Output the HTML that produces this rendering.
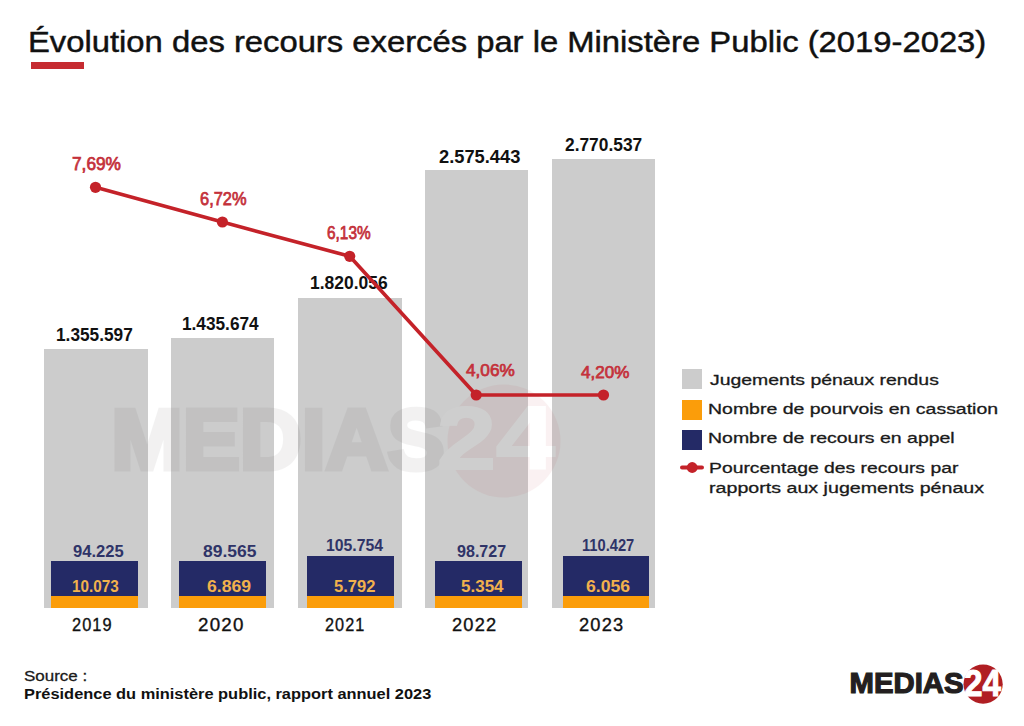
<!DOCTYPE html>
<html><head><meta charset="utf-8"><style>
html,body{margin:0;padding:0;}
body{width:1024px;height:726px;position:relative;overflow:hidden;background:#fff;font-family:"Liberation Sans",sans-serif;}
.a{position:absolute;}
.t{position:absolute;white-space:nowrap;line-height:1;transform-origin:0 0;}
</style></head><body>

<div class="a" style="left:44px;top:349px;width:103.6px;height:259px;background:#cccccc"></div>
<div class="a" style="left:170.7px;top:337.5px;width:103.6px;height:270.5px;background:#cccccc"></div>
<div class="a" style="left:298px;top:297.5px;width:103.6px;height:310.5px;background:#cccccc"></div>
<div class="a" style="left:424.5px;top:170px;width:103.6px;height:438px;background:#cccccc"></div>
<div class="a" style="left:551.8px;top:158.5px;width:103.6px;height:449.5px;background:#cccccc"></div>
<div class="a" style="left:51.1px;top:561px;width:86.7px;height:35px;background:#242a66"></div>
<div class="a" style="left:51.1px;top:596px;width:86.7px;height:12px;background:#fb9d0a"></div>
<div class="a" style="left:178.9px;top:561px;width:86.7px;height:35px;background:#242a66"></div>
<div class="a" style="left:178.9px;top:596px;width:86.7px;height:12px;background:#fb9d0a"></div>
<div class="a" style="left:307px;top:556px;width:86.7px;height:40px;background:#242a66"></div>
<div class="a" style="left:307px;top:596px;width:86.7px;height:12px;background:#fb9d0a"></div>
<div class="a" style="left:435px;top:561px;width:86.7px;height:35px;background:#242a66"></div>
<div class="a" style="left:435px;top:596px;width:86.7px;height:12px;background:#fb9d0a"></div>
<div class="a" style="left:562.7px;top:556px;width:86.7px;height:40px;background:#242a66"></div>
<div class="a" style="left:562.7px;top:596px;width:86.7px;height:12px;background:#fb9d0a"></div>
<div class="a" style="left:31px;top:62px;width:53px;height:7px;background:#c62b31"></div>
<svg class="a" style="left:0;top:0" width="1024" height="726"><g opacity="0.055"><text x="111.2" y="468.8" font-family="Liberation Sans" font-weight="bold" font-size="86" textLength="333.6" lengthAdjust="spacingAndGlyphs" fill="#231f20" stroke="#231f20" stroke-width="5">MEDIAS</text>
<circle cx="504" cy="441" r="56.5" fill="#b01e23"/>
<text x="437" y="468.5" font-family="Liberation Sans" font-weight="bold" font-size="89" textLength="118" lengthAdjust="spacingAndGlyphs" fill="#fff" stroke="#fff" stroke-width="2">24</text></g></svg>
<div class="t" style="left:55.62px;top:327.3px;font-size:17.68px;font-weight:bold;color:#111;transform:scaleX(0.9766)">1.355.597</div>
<div class="t" style="left:182.44px;top:315.9px;font-size:17.97px;font-weight:bold;color:#111;transform:scaleX(0.9595)">1.435.674</div>
<div class="t" style="left:309.83px;top:275.4px;font-size:17.97px;font-weight:bold;color:#111;transform:scaleX(0.9718)">1.820.056</div>
<div class="t" style="left:438.91px;top:147.7px;font-size:18.41px;font-weight:bold;color:#111;transform:scaleX(0.9938)">2.575.443</div>
<div class="t" style="left:564.93px;top:137.0px;font-size:17.83px;font-weight:bold;color:#111;transform:scaleX(0.9731)">2.770.537</div>
<svg class="a" style="left:0;top:0" width="1024" height="726"><polyline points="95.5,187.3 222.4,222 349.7,256.3 476.2,395 603.5,395" fill="none" stroke="#c42229" stroke-width="3.6" stroke-linejoin="round"/>
<circle cx="95.5" cy="187.3" r="5.6" fill="#c42229"/>
<circle cx="222.4" cy="222" r="5.6" fill="#c42229"/>
<circle cx="349.7" cy="256.3" r="5.6" fill="#c42229"/>
<circle cx="476.2" cy="395" r="5.6" fill="#c42229"/>
<circle cx="603.5" cy="395" r="5.6" fill="#c42229"/>
<line x1="682" y1="467.5" x2="702" y2="467.5" stroke="#c42229" stroke-width="4" stroke-linecap="round"/><circle cx="692.2" cy="467.5" r="5.4" fill="#c42229"/>
</svg>
<div class="t" style="left:28.44px;top:27.7px;font-size:28.99px;font-weight:normal;-webkit-text-stroke:0.45px #111;color:#111;transform:scaleX(1.1308)">Évolution des recours exercés par le Ministère Public (2019-2023)</div>
<div class="t" style="left:71.91px;top:155.9px;font-size:17.54px;font-weight:normal;-webkit-text-stroke:0.75px #c4313b;color:#c4313b;transform:scaleX(0.9854)">7,69%</div>
<div class="t" style="left:199.79px;top:190.8px;font-size:17.97px;font-weight:normal;-webkit-text-stroke:0.75px #c4313b;color:#c4313b;transform:scaleX(0.914)">6,72%</div>
<div class="t" style="left:326.93px;top:225.4px;font-size:17.68px;font-weight:normal;-webkit-text-stroke:0.75px #c4313b;color:#c4313b;transform:scaleX(0.8714)">6,13%</div>
<div class="t" style="left:465.7px;top:362.3px;font-size:17.1px;font-weight:normal;-webkit-text-stroke:0.75px #c4313b;color:#c4313b;transform:scaleX(1.0063)">4,06%</div>
<div class="t" style="left:581.2px;top:363.7px;font-size:17.39px;font-weight:normal;-webkit-text-stroke:0.75px #c4313b;color:#c4313b;transform:scaleX(0.9816)">4,20%</div>
<div class="t" style="left:72.5px;top:544.3px;font-size:16.52px;font-weight:bold;color:#2f3468;transform:scaleX(1.0041)">94.225</div>
<div class="t" style="left:202.84px;top:544.3px;font-size:16.52px;font-weight:bold;color:#2f3468;transform:scaleX(1.0592)">89.565</div>
<div class="t" style="left:326.11px;top:537.8px;font-size:15.94px;font-weight:bold;color:#2f3468;transform:scaleX(0.9912)">105.754</div>
<div class="t" style="left:457.23px;top:544.3px;font-size:16.52px;font-weight:bold;color:#2f3468;transform:scaleX(0.9735)">98.727</div>
<div class="t" style="left:582.28px;top:537.8px;font-size:15.94px;font-weight:bold;color:#2f3468;transform:scaleX(0.9218)">110.427</div>
<div class="t" style="left:71.97px;top:577.8px;font-size:16.38px;font-weight:bold;color:#f2b14c;transform:scaleX(0.9327)">10.073</div>
<div class="t" style="left:207.09px;top:578.8px;font-size:15.94px;font-weight:bold;color:#f2b14c;transform:scaleX(1.1053)">6.869</div>
<div class="t" style="left:333.99px;top:577.8px;font-size:16.38px;font-weight:bold;color:#f2b14c;transform:scaleX(1.0103)">5.792</div>
<div class="t" style="left:460.63px;top:578.8px;font-size:15.94px;font-weight:bold;color:#f2b14c;transform:scaleX(1.0667)">5.354</div>
<div class="t" style="left:586.32px;top:577.8px;font-size:16.38px;font-weight:bold;color:#f2b14c;transform:scaleX(1.0769)">6.056</div>
<div class="t" style="left:71.52px;top:615.8px;font-size:18.7px;font-weight:normal;-webkit-text-stroke:0.35px #111;letter-spacing:1.2px;color:#111;transform:scaleX(0.8773)">2019</div>
<div class="t" style="left:198.09px;top:616.0px;font-size:18.55px;font-weight:normal;-webkit-text-stroke:0.35px #111;letter-spacing:1.2px;color:#111;transform:scaleX(1.0116)">2020</div>
<div class="t" style="left:325.01px;top:616.2px;font-size:18.26px;font-weight:normal;-webkit-text-stroke:0.35px #111;letter-spacing:1.2px;color:#111;transform:scaleX(0.8907)">2021</div>
<div class="t" style="left:451.88px;top:617.0px;font-size:17.97px;font-weight:normal;-webkit-text-stroke:0.35px #111;letter-spacing:1.2px;color:#111;transform:scaleX(1.0167)">2022</div>
<div class="t" style="left:579.21px;top:616.0px;font-size:18.55px;font-weight:normal;-webkit-text-stroke:0.35px #111;letter-spacing:1.2px;color:#111;transform:scaleX(0.986)">2023</div>
<div class="t" style="left:709.5px;top:371.6px;font-size:15.3px;font-weight:normal;-webkit-text-stroke:0.3px #1a1a1a;color:#1a1a1a;transform:scaleX(1.2694)">Jugements pénaux rendus</div>
<div class="t" style="left:708.23px;top:401.1px;font-size:15.3px;font-weight:normal;-webkit-text-stroke:0.3px #1a1a1a;color:#1a1a1a;transform:scaleX(1.273)">Nombre de pourvois en cassation</div>
<div class="t" style="left:708.23px;top:430.2px;font-size:15.3px;font-weight:normal;-webkit-text-stroke:0.3px #1a1a1a;color:#1a1a1a;transform:scaleX(1.2724)">Nombre de recours en appel</div>
<div class="t" style="left:709.04px;top:459.6px;font-size:15.3px;font-weight:normal;-webkit-text-stroke:0.3px #1a1a1a;color:#1a1a1a;transform:scaleX(1.2638)">Pourcentage des recours par</div>
<div class="t" style="left:709.02px;top:479.7px;font-size:15.3px;font-weight:normal;-webkit-text-stroke:0.3px #1a1a1a;color:#1a1a1a;transform:scaleX(1.2836)">rapports aux jugements pénaux</div>
<div class="t" style="left:24.07px;top:668.0px;font-size:15.07px;font-weight:normal;-webkit-text-stroke:0.3px #1a1a1a;color:#1a1a1a;transform:scaleX(1.1259)">Source :</div>
<div class="t" style="left:24.12px;top:686.4px;font-size:15.22px;font-weight:bold;color:#111;transform:scaleX(1.0774)">Présidence du ministère public, rapport annuel 2023</div>
<div class="a" style="left:682px;top:369.3px;width:20px;height:19.3px;background:#cccccc"></div>
<div class="a" style="left:682px;top:400px;width:20px;height:20px;background:#fb9d0a"></div>
<div class="a" style="left:682px;top:430.2px;width:20px;height:19.7px;background:#242a66"></div>
<svg class="a" style="left:0;top:0" width="1024" height="726"><g transform="translate(849.5,693.3)"><text x="0" y="0" font-family="Liberation Sans" font-weight="bold" font-size="29.3" textLength="114" lengthAdjust="spacingAndGlyphs" fill="#231f20" stroke="#231f20" stroke-width="1.2">MEDIAS</text>
<circle cx="133.6" cy="-9.1" r="19.6" fill="#b01e23"/>
<text x="114.5" y="2.6" font-family="Liberation Sans" font-weight="bold" font-size="37" textLength="37" lengthAdjust="spacingAndGlyphs" fill="#fff" stroke="#fff" stroke-width="1">24</text></g></svg>
</body></html>
